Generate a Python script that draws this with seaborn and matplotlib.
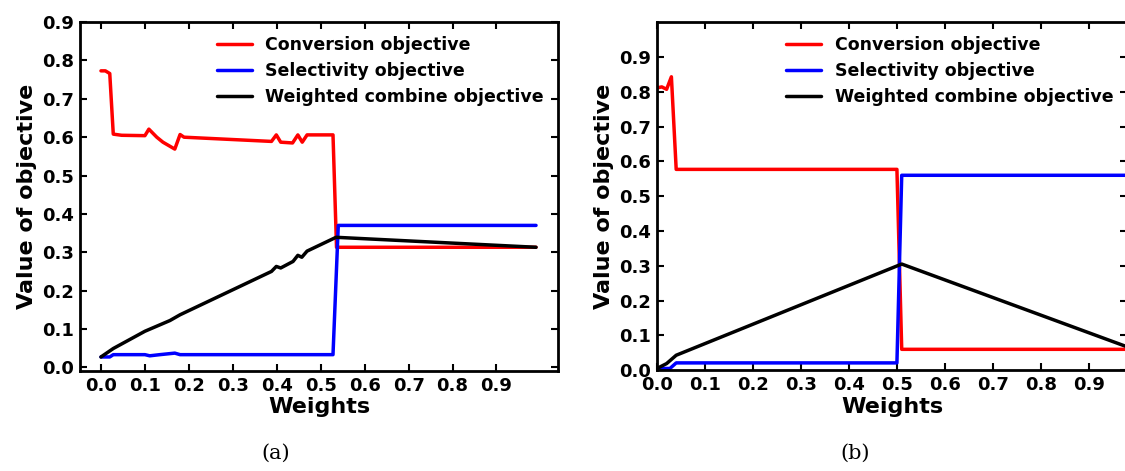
import matplotlib
matplotlib.use("Agg")
import matplotlib.pyplot as plt
import seaborn as sns
import pandas as pd

sns.set_style("ticks")
plt.rcParams['font.family'] = ['DejaVu Sans']
plt.rcParams['font.weight'] = 'bold'
plt.rcParams['text.color'] = 'black'
plt.rcParams['axes.labelcolor'] = 'black'
plt.rcParams['xtick.color'] = 'black'
plt.rcParams['ytick.color'] = 'black'

# ---- Panel (a) data ----
a_conv_w = [0.0, 0.01, 0.02, 0.028, 0.047, 0.10, 0.109, 0.127, 0.141, 0.168, 0.18, 0.189,
            0.388, 0.399, 0.409, 0.436, 0.448, 0.458, 0.469, 0.528, 0.536, 0.99]
a_conv_v = [0.773, 0.773, 0.766, 0.608, 0.605, 0.604, 0.621, 0.600, 0.587, 0.569, 0.607, 0.600,
            0.589, 0.606, 0.587, 0.585, 0.606, 0.587, 0.606, 0.606, 0.313, 0.313]
a_sel_w = [0.0, 0.02, 0.028, 0.10, 0.111, 0.134, 0.168, 0.18, 0.528, 0.54, 0.99]
a_sel_v = [0.027, 0.027, 0.033, 0.033, 0.030, 0.033, 0.037, 0.033, 0.033, 0.370, 0.370]
a_wc_w = [0.0, 0.028, 0.10, 0.157, 0.18, 0.388, 0.399, 0.409, 0.437, 0.448, 0.457, 0.469, 0.535, 0.99]
a_wc_v = [0.027, 0.049, 0.094, 0.122, 0.137, 0.250, 0.263, 0.259, 0.276, 0.292, 0.287, 0.303, 0.339, 0.313]

# ---- Panel (b) data ----
b_conv_w = [0.0, 0.01, 0.02, 0.03, 0.04, 0.50, 0.51, 0.99]
b_conv_v = [0.811, 0.814, 0.807, 0.843, 0.577, 0.577, 0.060, 0.060]
b_sel_w = [0.0, 0.027, 0.04, 0.50, 0.51, 0.99]
b_sel_v = [0.005, 0.005, 0.021, 0.021, 0.560, 0.560]
b_wc_w = [0.0, 0.02, 0.04, 0.51, 0.99]
b_wc_v = [0.005, 0.019, 0.043, 0.305, 0.062]

labels = ["Conversion objective", "Selectivity objective", "Weighted combine objective"]
colors = ["#ff0000", "#0000ff", "#000000"]
xticks = [0.0, 0.1, 0.2, 0.3, 0.4, 0.5, 0.6, 0.7, 0.8, 0.9]
yticks = [0.0, 0.1, 0.2, 0.3, 0.4, 0.5, 0.6, 0.7, 0.8, 0.9]


def make_df(series):
    frames = []
    for lab, (w, v) in zip(labels, series):
        frames.append(pd.DataFrame({"Weights": w, "Value": v, "series": lab}))
    return pd.concat(frames, ignore_index=True)


fig = plt.figure(figsize=(11.25, 4.71), dpi=100)
ax_a = fig.add_axes([0.071, 0.212, 0.425, 0.741])
ax_b = fig.add_axes([0.584, 0.214, 0.418, 0.739])

panels = [
    (ax_a, [(a_conv_w, a_conv_v), (a_sel_w, a_sel_v), (a_wc_w, a_wc_v)], (-0.048, 1.04), (-0.01, 0.9)),
    (ax_b, [(b_conv_w, b_conv_v), (b_sel_w, b_sel_v), (b_wc_w, b_wc_v)], (0.0, 0.98), (0.0, 1.0)),
]

for ax, series, xl, yl in panels:
    df = make_df(series)
    sns.lineplot(data=df, x="Weights", y="Value", hue="series", hue_order=labels,
                 palette=colors, estimator=None, sort=False, linewidth=2.5, ax=ax)
    ax.set_xlim(*xl)
    ax.set_ylim(*yl)
    ax.set_xticks(xticks)
    ax.set_yticks(yticks)
    ax.set_xticklabels([f"{t:.1f}" for t in xticks], fontsize=13, fontweight='bold', color='black')
    ax.set_yticklabels([f"{t:.1f}" for t in yticks], fontsize=13, fontweight='bold', color='black')
    ax.tick_params(direction='in', top=True, right=True, length=5, width=1.5, pad=4, colors='black')
    for s in ax.spines.values():
        s.set_visible(True)
        s.set_linewidth(2)
        s.set_color('black')
    ax.set_xlabel("Weights", fontsize=16, fontweight='bold', labelpad=2, color='black')
    ax.set_ylabel("Value of objective", fontsize=16, fontweight='bold', labelpad=4, color='black')
    leg = ax.legend(loc='upper right', frameon=False, prop={'size': 12.5, 'weight': 'bold'},
                    handlelength=2.0, handletextpad=0.8, labelspacing=0.45, borderaxespad=0.4)
    for t in leg.get_texts():
        t.set_color('black')
    for line in leg.get_lines():
        line.set_linewidth(2.5)

fig.text(0.245, 0.025, "(a)", fontsize=15, family='DejaVu Serif', fontweight='normal', ha='center', color='black')
fig.text(0.760, 0.025, "(b)", fontsize=15, family='DejaVu Serif', fontweight='normal', ha='center', color='black')

fig.savefig("out.png", dpi=100)
